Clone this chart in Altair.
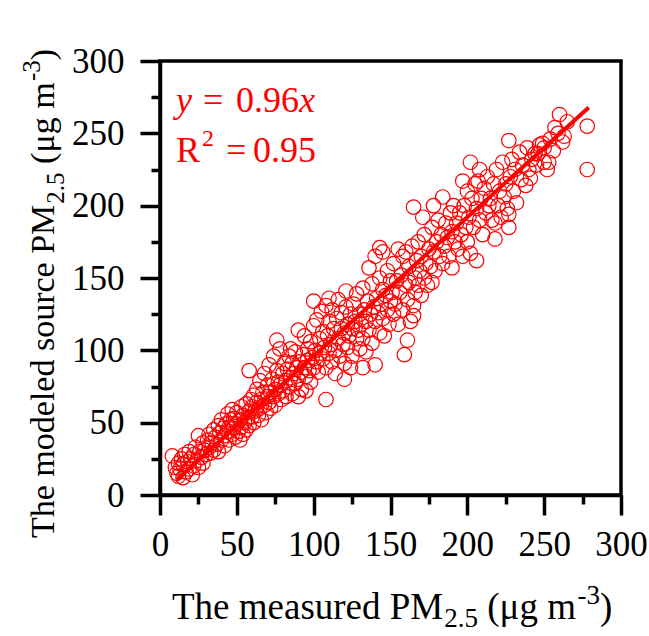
import altair as alt
import pandas as pd

# ---------------- data ----------------
seg_a = [(8,27),(10,19),(11,15),(12,22),(12,13),(13,18),(14,25),(15,12),(15,21),(16,28),
         (17,16),(18,23),(19,30),(19,18),(20,25),(21,14),(22,28),(22,20),(23,33),(24,24),
         (25,19),(25,41),(26,30),(27,26),(28,36),(28,22),(29,31)]
seg_b = [(30,28),(31,38),(32,33),(32,42),(33,29),(34,36),(35,45),(35,31),(36,40),(37,35),
         (38,48),(38,30),(39,43),(40,38),(40,52),(41,46),(42,34),(42,41),(43,49),(44,44),
         (44,56),(45,38),(45,47),(46,52),(47,42),(47,59),(48,46),(48,53),(49,40),(50,49),
         (50,57),(51,44),(52,38),(52,52),(53,61),(53,47),(54,42),(54,55),(55,50),(56,63),
         (56,45),(57,53),(58,86),(58,58),(58,48),(59,66),(60,54),(60,61)]
seg_c = [(61,50),(61,69),(62,58),(63,64),(63,73),(64,55),(65,60),(65,79),(66,66),(66,52),
         (67,71),(68,62),(68,84),(69,57),(70,68),(70,76),(71,64),(71,90),(72,71),(72,60),
         (73,80),(74,68),(74,96),(75,73),(75,62),(76,107),(76,86),(77,78),(77,70),(78,101),
         (78,76),(79,66),(80,84),(80,72),(81,91),(82,79),(82,68),(83,87),(84,96),(84,75),
         (85,101),(85,81),(86,70),(86,91),(87,84),(88,77),(88,99),(89,88),(90,68),(90,80),
         (90,114),(91,92),(92,85),(92,73),(93,97),(94,88),(94,110),(95,72),(95,82),(96,93),
         (96,101),(97,86),(98,78),(98,106),(99,95),(100,88),(100,117),(100,134)]
seg_d = [(101,100),(102,92),(102,121),(103,85),(104,108),(104,98),(105,127),(106,94),(106,113),
         (107,102),(108,66),(108,88),(108,131),(109,110),(110,98),(110,136),(110,120),(111,104),
         (112,92),(112,128),(113,115),(114,100),(114,84),(115,122),(116,108),(116,135),(117,96),
         (118,115),(118,126),(119,104),(120,80),(120,112),(120,91),(121,141),(121,130),(122,118),
         (122,102),(123,110),(124,88),(124,125),(125,96),(125,115),(126,132),(127,120),(128,108),
         (128,139),(129,114),(130,101),(130,125),(131,118),(132,88),(132,143),(132,108),(133,128),
         (134,120),(134,99),(135,134),(136,157),(136,114),(137,125),(138,146),(138,105),(139,130),
         (140,90),(140,165),(140,120),(141,136),(142,126),(143,171),(143,112),(143,150),(144,132),
         (145,122),(145,168),(145,142),(146,110),(147,138),(148,128),(148,155),(149,118),(150,134),
         (150,148)]
seg_e = [(151,140),(152,125),(152,160),(153,132),(154,148),(155,118),(155,170),(156,140),(157,152),
         (158,128),(158,165),(159,97),(160,145),(160,168),(161,107),(161,135),(162,147),(162,158),
         (163,120),(164,172),(165,124),(165,131),(165,199),(166,150),(166,140),(167,162),(168,145),
         (168,175),(169,155),(170,138),(170,165),(171,192),(172,150),(172,180),(173,160),(174,145),
         (175,170),(176,158),(177,147),(177,185),(178,200),(178,168),(179,155),(180,175),(181,190),
         (182,165),(183,180),(184,206),(184,160),(185,172),(186,188),(187,178),(188,165),(189,195),
         (190,157),(190,182),(191,200),(192,175),(193,188),(194,170),(195,195),(196,180),(197,217),
         (197,165),(198,200),(199,185),(200,175),(200,210)]
seg_f = [(201,192),(202,230),(202,167),(203,205),(204,185),(205,215),(206,162),(206,198),(207,217),
         (208,225),(208,190),(209,205),(210,180),(211,212),(212,195),(213,220),(214,200),(215,205),
         (216,190),(217,215),(218,177),(218,188),(219,225),(220,200),(221,210),(222,192),(223,230),
         (224,206),(225,215),(226,198),(227,245),(227,194),(227,185),(228,220),(229,232),(230,210),
         (231,225),(232,202),(234,237),(235,218),(236,228),(238,214),(239,240),(240,225),(241,219),
         (242,232),(244,236),(245,228),(246,236),(247,242),(249,243),(250,240),(250,230),(252,225),
         (253,230),(254,246),(256,238),(257,254),(259,250),(260,263),(262,244),(263,248),(265,258),
         (278,255),(278,225)]

pairs = seg_a + seg_b + seg_c + seg_d + seg_e + seg_f
measured = [p[0] for p in pairs]
modeled = [p[1] for p in pairs]

SLOPE = 0.96
R2 = 0.95
fit_x = [11, 279]
fit_y = [SLOPE * v for v in fit_x]

major_ticks = [0, 50, 100, 150, 200, 250, 300]
minor_ticks = [25, 75, 125, 175, 225, 275]

# ---------------- layout ----------------
FONT = "Liberation Serif"
RED = "#ff0000"
LEFT, TOP = 160, 61
W, H = 461, 434
PAGE_W, PAGE_H = 649, 636

# Times/Liberation Serif advance widths (em)
TW = {'T': .611, 'h': .5, 'e': .444, ' ': .25, 'm': .778, 'a': .444, 's': .389, 'u': .5,
      'r': .333, 'd': .5, 'P': .556, 'M': .889, 'o': .5, 'l': .278, 'c': .444, '(': .333,
      ')': .333, 'μ': .576, 'g': .5, '2': .5, '.': .25, '5': .5, '-': .333, '3': .5}


def tw(s, size):
    return sum(TW.get(c, .5) for c in s) * size


def txt(s, px, py, size, color="black", style="normal", angle=0):
    return alt.Chart(pd.DataFrame({"t": [s]})).mark_text(
        font=FONT, fontSize=size, color=color, fontStyle=style, angle=angle,
        align="left", baseline="alphabetic"
    ).encode(text="t:N", x=alt.value(px - LEFT), y=alt.value(py - TOP))


df = pd.DataFrame({"measured": measured, "modeled": modeled})
xs = alt.Scale(domain=[0, 300], nice=False, zero=False)
ys = alt.Scale(domain=[0, 300], nice=False, zero=False)

common = dict(grid=False, title=None, domainColor="black", tickColor="black",
              labelColor="black", labelFont=FONT, labelFontSize=35)

x_major = alt.Axis(orient="bottom", values=major_ticks, tickSize=20, tickWidth=3.5,
                   domainWidth=3.5, labelPadding=12, labelFlush=False,
                   labelOverlap=False, **common)
y_major = alt.Axis(orient="left", values=major_ticks, tickSize=20, tickWidth=3.5,
                   domainWidth=3.5, labelPadding=16, labelFlush=False,
                   labelOverlap=False, **common)
x_minor = alt.Axis(orient="bottom", values=minor_ticks, tickSize=9, tickWidth=3.5,
                   domain=False, labels=False, grid=False, title=None, tickColor="black")
y_minor = alt.Axis(orient="left", values=minor_ticks, tickSize=9, tickWidth=3.5,
                   domain=False, labels=False, grid=False, title=None, tickColor="black")

points = alt.Chart(df).mark_point(
    shape="circle", filled=False, size=210, strokeWidth=1.2, color=RED, opacity=1
).encode(
    x=alt.X("measured:Q", scale=xs, axis=x_major),
    y=alt.Y("modeled:Q", scale=ys, axis=y_major),
)

minor = alt.Chart(df).mark_point(opacity=0).encode(
    x=alt.X("measured:Q", scale=xs, axis=x_minor),
    y=alt.Y("modeled:Q", scale=ys, axis=y_minor),
)

fit = alt.Chart(pd.DataFrame({"measured": fit_x, "modeled": fit_y})).mark_line(
    color=RED, strokeWidth=4
).encode(
    x=alt.X("measured:Q", scale=xs, axis=None),
    y=alt.Y("modeled:Q", scale=ys, axis=None),
)

# ---------------- text: equation ----------------
EQ = 36
eq_layers = [
    txt("y", 176, 112, EQ, RED, "italic"),
    txt("=", 203, 112, EQ, RED),
    txt(f"{SLOPE:.2f}", 236, 112, EQ, RED),
    txt("x", 236 + tw("0.96", EQ), 112, EQ, RED, "italic"),
    txt("R", 176, 162, EQ, RED),
    txt("2", 202, 146, 24, RED),
    txt("=", 226, 162, EQ, RED),
    txt(f"{R2:.2f}", 253, 162, EQ, RED),
]

# ---------------- text: axis titles ----------------
TS, SS = 37, 27
x_base = 619
xt = []
cx = 172
xt.append(txt("The measured PM", cx, x_base, TS)); cx += tw("The measured PM", TS) + 1
xt.append(txt("2.5", cx, x_base + 8, SS)); cx += tw("2.5", SS) + tw(" ", TS)
xt.append(txt("(μg m", cx, x_base, TS)); cx += tw("(μg m", TS)
xt.append(txt("-3", cx, x_base - 15, SS)); cx += tw("-3", SS)
xt.append(txt(")", cx, x_base, TS))

YS, YSS = 34, 25
y_base = 54
yt = []
cy = 538
yt.append(txt("The modeled source PM", y_base, cy, YS, angle=270)); cy -= tw("The modeled source PM", YS) + 1
yt.append(txt("2.5", y_base + 10, cy, YSS, angle=270)); cy -= tw("2.5", YSS) + tw(" ", YS)
yt.append(txt("(μg m", y_base, cy, YS, angle=270)); cy -= tw("(μg m", YS)
yt.append(txt("-3", y_base - 14, cy, YSS, angle=270)); cy -= tw("-3", YSS)
yt.append(txt(")", y_base, cy, YS, angle=270))

chart = alt.layer(points, minor, fit, *eq_layers, *xt, *yt).resolve_axis(
    x="independent", y="independent"
).properties(
    width=W, height=H,
    padding={"left": LEFT, "top": TOP, "right": PAGE_W - LEFT - W, "bottom": PAGE_H - TOP - H},
    autosize=alt.AutoSizeParams(type="none"),
    background="white",
).configure_view(stroke="black", strokeWidth=3.5)

chart.save("out.html", embed_options={"renderer": "svg", "actions": False})
